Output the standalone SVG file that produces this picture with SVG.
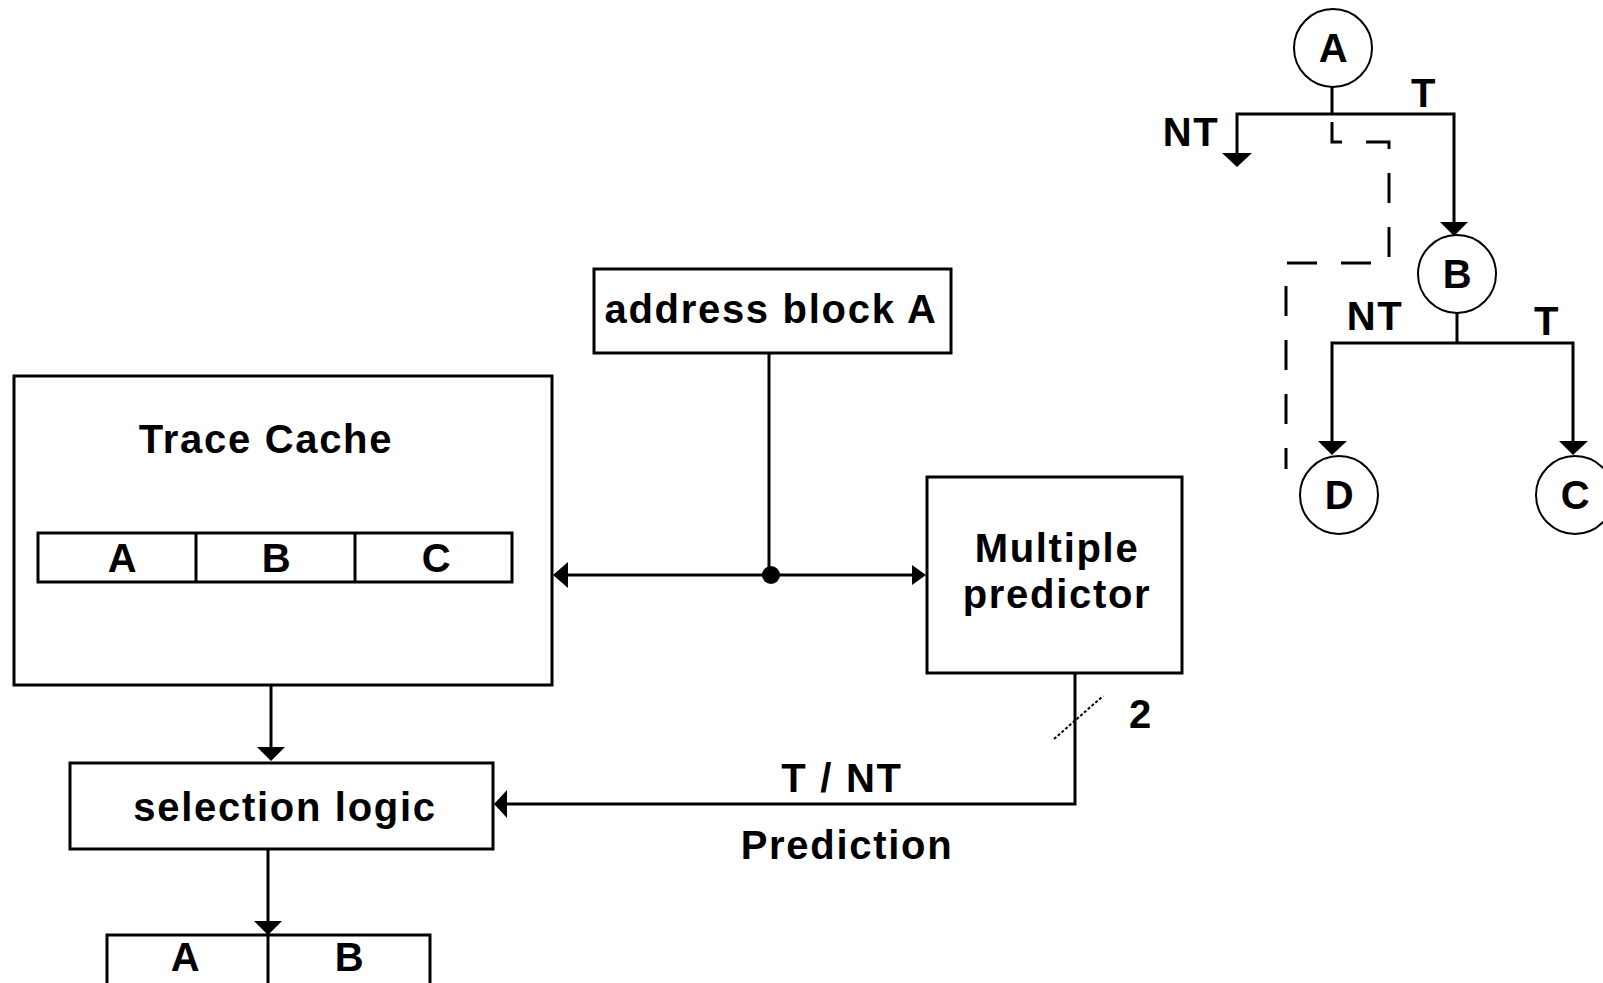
<svg xmlns="http://www.w3.org/2000/svg" width="1603" height="983" viewBox="0 0 1603 983">
<style>
.box{fill:#fff;stroke:#000;stroke-width:3}
.ln{fill:none;stroke:#000;stroke-width:3}
.thin{fill:none;stroke:#000;stroke-width:2}
.dash{fill:none;stroke:#000;stroke-width:3;stroke-dasharray:30 24}
.circ{fill:#fff;stroke:#000;stroke-width:2}
.ah{fill:#000}
text{font-family:"Liberation Sans",Arial,sans-serif;font-weight:bold;font-size:40px;letter-spacing:1.7px;fill:#000;text-anchor:middle}
</style>
<rect width="1603" height="983" fill="#fff"/>
<g id="connectors">
  <line class="ln" x1="769" y1="353" x2="769" y2="575"/>
  <line class="ln" x1="566" y1="575" x2="914" y2="575"/>
  <circle cx="771" cy="575" r="9" fill="#000"/>
  <polygon class="ah" points="553,575 568,562 568,588"/>
  <polygon class="ah" points="926,575 912,565 912,585"/>
  <line class="ln" x1="271" y1="685" x2="271" y2="748"/>
  <polygon class="ah" points="271,761 257,747 285,747"/>
  <line class="ln" x1="268" y1="849" x2="268" y2="983"/>
  <polygon class="ah" points="268,935 254,921 282,921"/>
  <polyline class="ln" points="1075,673 1075,804 507,804"/>
  <polygon class="ah" points="494,804 507,790 507,818"/>
  <line class="thin" x1="1054" y1="739" x2="1103" y2="696" stroke-dasharray="3 2"/>
  <line class="ln" x1="1332" y1="87" x2="1332" y2="114"/>
  <polyline class="ln" points="1237,155 1237,114 1454,114 1454,225"/>
  <polygon class="ah" points="1237,167 1222,153 1252,153"/>
  <polygon class="ah" points="1454,236 1440,222 1468,222"/>
  <line class="ln" x1="1457" y1="313" x2="1457" y2="343"/>
  <polyline class="ln" points="1332,445 1332,343 1573,343 1573,445"/>
  <polygon class="ah" points="1332,455 1318,441 1347,441"/>
  <polygon class="ah" points="1573,455 1559,441 1588,441"/>
  <polyline class="dash" points="1332,122 1332,142 1389,142 1389,263 1286,263 1286,469"/>
</g>
<g id="trace-cache">
  <rect class="box" x="14" y="376" width="538" height="309"/>
  <text x="266" y="453">Trace Cache</text>
  <rect class="box" x="38" y="533" width="474" height="49"/>
  <line class="ln" x1="196" y1="533" x2="196" y2="582"/>
  <line class="ln" x1="355" y1="533" x2="355" y2="582"/>
  <text x="123" y="572">A</text>
  <text x="277" y="572">B</text>
  <text x="437" y="572">C</text>
</g>
<g id="address-block">
  <rect class="box" x="594" y="269" width="357" height="84"/>
  <text x="771" y="323">address block A</text>
</g>
<g id="multiple-predictor">
  <rect class="box" x="927" y="477" width="255" height="196"/>
  <text x="1057" y="562">Multiple</text>
  <text x="1057" y="608">predictor</text>
</g>
<g id="selection-logic">
  <rect class="box" x="70" y="763" width="423" height="86"/>
  <text x="285" y="821">selection logic</text>
</g>
<g id="output-trace">
  <rect class="box" x="107" y="935" width="323" height="60"/>
  <line class="ln" x1="268" y1="935" x2="268" y2="983"/>
  <text x="186" y="971">A</text>
  <text x="350" y="971">B</text>
</g>
<g id="labels">
  <text x="1141" y="728">2</text>
  <text x="842" y="792">T / NT</text>
  <text x="847" y="859">Prediction</text>
  <text x="1191" y="146">NT</text>
  <text x="1424" y="107">T</text>
  <text x="1375" y="330">NT</text>
  <text x="1547" y="335">T</text>
</g>
<g id="node-A">
  <circle class="circ" cx="1333" cy="48" r="39"/>
  <text x="1334" y="62">A</text>
</g>
<g id="node-B">
  <circle class="circ" cx="1457" cy="274" r="39"/>
  <text x="1458" y="288">B</text>
</g>
<g id="node-D">
  <circle class="circ" cx="1339" cy="495" r="39"/>
  <text x="1340" y="509">D</text>
</g>
<g id="node-C">
  <circle class="circ" cx="1575" cy="495" r="39"/>
  <text x="1576" y="509">C</text>
</g>
</svg>
